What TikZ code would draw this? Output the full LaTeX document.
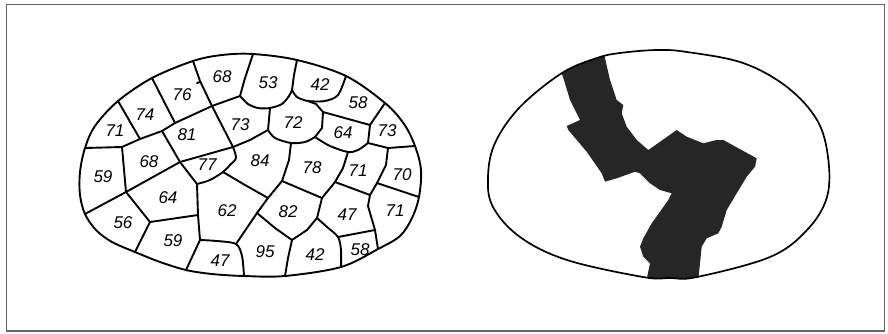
\documentclass[tikz,border=0pt]{standalone}
\usepackage{fontspec}
\newfontfamily\handfont{Liberation Sans}
\begin{document}
\begin{tikzpicture}[x=1pt,y=-1pt,
  cellline/.style={line width=1.9pt,line join=round,line cap=round},
  ovalline/.style={line width=1.7pt},
  num/.style={font=\fontsize{17}{17}\selectfont\handfont\itshape,inner sep=0pt},
  framestyle/.style={draw=black!60,line width=1.2pt}]
\useasboundingbox (0,0) rectangle (888,333);
\draw[framestyle] (6.5,4.5) rectangle (884.5,331);
% ---------- left oval: outer boundary vertices ----------
\coordinate (o1) at (85,148);  \coordinate (o2) at (118,101);
\coordinate (o3) at (152,78);  \coordinate (o4) at (193,61);
\coordinate (o5) at (253,54);  \coordinate (o6) at (297,60);
\coordinate (o7) at (346,76);  \coordinate (o8) at (385,103);
\coordinate (o9) at (415,146); \coordinate (o10) at (419,197);
\coordinate (o11) at (378,249);\coordinate (o12) at (341,267);
\coordinate (o13) at (285,276);\coordinate (o14) at (244,276);
\coordinate (o15) at (186,270);\coordinate (o16) at (135,252);
\coordinate (o17) at (85,214);
% interior vertices
\coordinate (D) at (122,147);  \coordinate (E) at (140,139);
\coordinate (H) at (162,131);  \coordinate (F) at (175,123);
\coordinate (I) at (212,106);  \coordinate (J) at (240,96);
\coordinate (X) at (270,108);  \coordinate (K) at (292,90);
\coordinate (V1) at (308,101); \coordinate (Y) at (268,130);
\coordinate (L) at (315,137);  \coordinate (N64) at (323,112);
\coordinate (M) at (370,125);  \coordinate (R73) at (368,143);
\coordinate (B71) at (348,152);\coordinate (C70) at (388,148);
\coordinate (D70) at (377,183);\coordinate (E47) at (370,195);
\coordinate (P) at (335,182);  \coordinate (Q) at (322,198);
\coordinate (T78) at (291,143);\coordinate (B78) at (282,181);
\coordinate (C84) at (268,198);\coordinate (W) at (233,147);
\coordinate (T) at (180,162);  \coordinate (G) at (126,192);
\coordinate (U) at (197,184);  \coordinate (V) at (198,215);
\coordinate (A56) at (150,222);\coordinate (Z62) at (223,172);
\coordinate (N95) at (257,213);\coordinate (S) at (292,240);
\coordinate (R) at (317,218);  \coordinate (A58) at (338,237);
\coordinate (B58) at (375,230);\coordinate (Y47) at (200,240);
\coordinate (S62) at (236,244);
% outer curve
\draw[cellline] plot[smooth cycle,tension=0.55] coordinates {
 (80,172) (o1) (95,126) (o2) (o3) (o4) (222,55) (o5) (o6) (o7) (o8) (404,124)
 (o9) (421,170) (o10) (412,218) (400,236) (o11) (o12) (o13) (o14) (212,274)
 (o15) (160,262) (o16) (112,242) (96,230) (o17) (80,195)};
% cell boundaries
\draw[cellline] (o1) -- (D) -- (E) -- (H) -- (F) -- (I) -- (J);
\draw[cellline] (o2) -- (E);
\draw[cellline] (o3) -- (F);
\draw[cellline] (o4) -- (200,81) -- (I);
\draw[cellline] (197,83) -- (200,82);
\draw[cellline] (o5) -- (245,78) -- (J);
\draw[cellline] plot[smooth] coordinates {(J) (248,104) (258,108) (X) (282,104) (289,96) (K)};
\draw[cellline] (o6) -- (294,75) -- (K);
\draw[cellline] plot[smooth] coordinates {(K) (297,97) (V1) (325,101) (338,95) (o7)};
\draw[cellline] (V1) -- (316,104) -- (N64);
\draw[cellline] (N64) -- (M) -- (o8);
\draw[cellline] (M) -- (R73);
\draw[cellline] (X) -- (Y);
\draw[cellline] plot[smooth] coordinates {(Y) (275,138) (T78) (305,142) (L)};
\draw[cellline] (L) -- (322,128) -- (N64);
\draw[cellline] plot[smooth] coordinates {(L) (330,146) (B71) (358,150) (R73)};
\draw[cellline] (R73) -- (C70) -- (o9);
\draw[cellline] (C70) -- (386,165) -- (D70) -- (o10);
\draw[cellline] (D70) -- (E47);
\draw[cellline] (B71) -- (343,168) -- (P) -- (E47);
\draw[cellline] (E47) -- (368,206) -- (B58) -- (o11);
\draw[cellline] (B58) -- (A58);
\draw[cellline] plot[smooth] coordinates {(R) (327,227) (A58) (341,250) (o12)};
\draw[cellline] (P) -- (Q) -- (R);
\draw[cellline] (Q) -- (B78);
\draw[cellline] (T78) -- (289,160) -- (B78) -- (C84);
\draw[cellline] (Z62) -- (245,185) -- (C84) -- (N95);
\draw[cellline] (N95) -- (275,228) -- (S) -- (288,258) -- (o13);
\draw[cellline] (S) -- (307,230) -- (R);
\draw[cellline] (Y) -- (250,140) -- (W);
\draw[cellline] (I) -- (W);
\draw[cellline] plot[smooth] coordinates {(W) (236,158) (230,165) (Z62) (210,180) (U)};
\draw[cellline] (H) -- (T) -- (W);
\draw[cellline] (G) -- (T) -- (U) -- (V);
\draw[cellline] (D) -- (G) -- (o17);
\draw[cellline] (G) -- (A56) -- (o16);
\draw[cellline] (A56) -- (V) -- (Y47) -- (193,255) -- (o15);
\draw[cellline] plot[smooth] coordinates {(Y47) (217,241) (S62) (242,256) (o14)};
\draw[cellline] (S62) -- (N95);
% labels
\node[num] (n71a) at (115,131) {71};
\node[num] (n74) at (145,115) {74};
\node[num] (n76) at (182,95) {76};
\node[num] (n68a) at (222,77) {68};
\node[num] (n53) at (268,83) {53};
\node[num] (n42a) at (320,85) {42};
\node[num] (n58a) at (358,103) {58};
\node[num] (n73a) at (387,131) {73};
\node[num] (n64a) at (343,133) {64};
\node[num] (n72) at (293,123) {72};
\node[num] (n73b) at (240,125) {73};
\node[num] (n81) at (187,135) {81};
\node[num] (n68b) at (149,162) {68};
\node[num] (n59a) at (103,177) {59};
\node[num] (n77) at (207,165) {77};
\node[num] (n84) at (260,161) {84};
\node[num] (n78) at (312,168) {78};
\node[num] (n71b) at (358,171) {71};
\node[num] (n70) at (402,175) {70};
\node[num] (n64b) at (168,198) {64};
\node[num] (n56) at (123,223) {56};
\node[num] (n62) at (227,211) {62};
\node[num] (n82) at (288,212) {82};
\node[num] (n47a) at (347,215) {47};
\node[num] (n71c) at (395,211) {71};
\node[num] (n59b) at (173,241) {59};
\node[num] (n47b) at (220,261) {47};
\node[num] (n95) at (265,252) {95};
\node[num] (n42b) at (315,255) {42};
\node[num] (n58b) at (360,250) {58};
% ---------- right oval ----------
\def\rightoval{plot[smooth cycle,tension=0.6] coordinates {
 (597,58) (620,53) (657,50) (687,52) (743,63) (787,87) (817,120) (828,157)
 (827,197) (807,230) (770,257) (697,277) (670,278) (643,277) (567,260)
 (520,237) (493,207) (488,177) (495,143) (520,107) (562,73)}}
\begin{scope}
\clip \rightoval;
\fill[black!85] (558,62) -- (602,45) -- (610,80) -- (616.7,100) -- (623.3,105)
 -- (621.7,113.3) -- (626.7,126.7) -- (636.7,140) -- (648.3,150) -- (676.7,130)
 -- (686.7,136.7) -- (703.3,143.3) -- (716.7,140) -- (723.3,140) -- (756.7,158.3)
 -- (755,166.7) -- (746.7,176.7) -- (736.7,193.3) -- (726.7,210) -- (721.7,226.7)
 -- (718.3,233.3) -- (706.7,238.3) -- (701.7,246.7) -- (700,263.3) -- (697,292)
 -- (644,292) -- (650,263.3) -- (643.3,256.7) -- (640,246.7) -- (643.3,238.3)
 -- (651.7,223.3) -- (660,211.7) -- (668.3,200) -- (671.7,193.3) -- (660,190)
 -- (650,183.3) -- (640,173.3) -- (635,171.7) -- (616.7,178.3) -- (605,181.7)
 -- (601.7,173.3) -- (586.7,151.7) -- (568.3,130) -- (566.7,126) -- (580,120)
 -- (570,100) -- (565,83.3) -- cycle;
\end{scope}
\draw[ovalline] \rightoval;
\end{tikzpicture}
\end{document}
